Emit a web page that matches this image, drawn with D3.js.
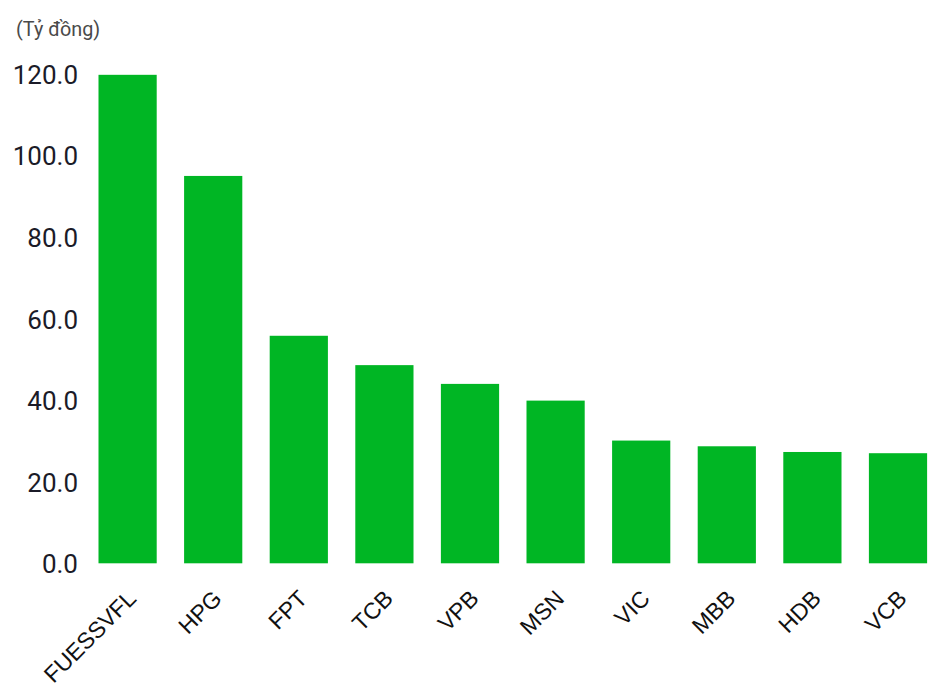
<!DOCTYPE html>
<html>
<head>
<meta charset="utf-8">
<script src="https://cdn.jsdelivr.net/npm/d3@7"></script>
<style>
  html, body { margin: 0; padding: 0; background: #fff; }
  svg { display: block; }
</style>
</head>
<body>
<svg id="chart" width="936" height="688"></svg>
<script>
const categories = ["FUESSVFL", "HPG", "FPT", "TCB", "VPB", "MSN", "VIC", "MBB", "HDB", "VCB"];
const values = [119.8, 95.0, 55.8, 48.6, 44.0, 39.9, 30.1, 28.7, 27.3, 27.0];
const yTicks = [0, 20, 40, 60, 80, 100, 120];
const unitLabel = "(Tỷ đồng)";

const svg = d3.select("#chart");
const x = d3.scaleBand().domain(categories).range([84.8, 940.8]).paddingInner(0.32).paddingOuter(0.16);
const y = d3.scaleLinear().domain([0, 120]).range([563.3, 74]);

svg.append("text")
  .attr("x", 16).attr("y", 36)
  .attr("font-family", "Roboto, sans-serif")
  .attr("font-size", 19.8)
  .attr("fill", "#4a4a4a")
  .text(unitLabel);

const yAxis = d3.axisLeft(y).tickValues(yTicks).tickFormat(d3.format(".1f")).tickSize(0).tickPadding(0);
const gy = svg.append("g").attr("transform", "translate(78,0)").call(yAxis);
gy.select(".domain").remove();
gy.selectAll("text")
  .attr("font-family", "Roboto, sans-serif")
  .attr("font-size", 26)
  .attr("fill", "#1b1b28")
  .attr("dy", "0.36em");

svg.append("g").selectAll("rect")
  .data(categories)
  .join("rect")
  .attr("x", d => x(d))
  .attr("width", x.bandwidth())
  .attr("y", (d, i) => y(values[i]))
  .attr("height", (d, i) => y(0) - y(values[i]))
  .attr("fill", "#00b624");

const xAxis = d3.axisBottom(x).tickSize(0).tickPadding(0);
const gx = svg.append("g").attr("transform", "translate(0,600)").call(xAxis);
gx.select(".domain").remove();
gx.selectAll("text")
  .attr("font-family", "'Liberation Sans', Arial, sans-serif")
  .attr("font-size", 23)
  .attr("fill", "#111")
  .attr("text-anchor", "end")
  .attr("dy", 0)
  .attr("y", 0)
  .attr("transform", "translate(10,0) rotate(-45)");
</script>
</body>
</html>
